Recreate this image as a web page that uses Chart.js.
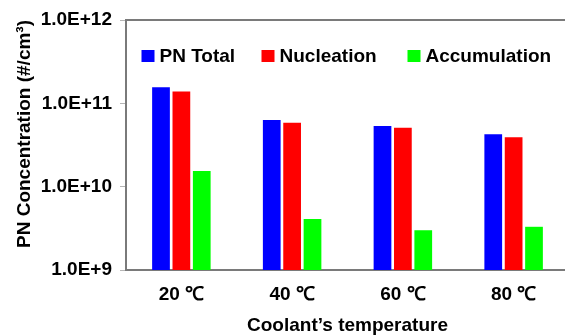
<!DOCTYPE html>
<html>
<head>
<meta charset="utf-8">
<script src="https://cdn.jsdelivr.net/npm/chart.js@4/dist/chart.umd.min.js"></script>
<style>
  html, body { margin: 0; padding: 0; background: #fff; overflow: hidden; }
  #wrap { width: 565px; height: 335px; overflow: hidden; }
  canvas { display: block; }
</style>
</head>
<body>
<div id="wrap"><canvas id="c" width="569" height="335"></canvas></div>
<script>
// Particle number concentration by coolant temperature
const categories = ['20 \u2103', '40 \u2103', '60 \u2103', '80 \u2103'];
const pnTotal = [1.56e11, 6.3e10, 5.35e10, 4.25e10];
const nucleation = [1.39e11, 5.86e10, 5.1e10, 3.91e10];
const accumulation = [1.54e10, 4.1e9, 3.0e9, 3.3e9];
const yTicks = [1e9, 1e10, 1e11, 1e12];

const FONT = '"Liberation Sans", Arial, Helvetica, sans-serif';
const AXIS_GRAY = '#7a7a7a';

// Legend drawn inside the plot area, plus the top frame line
const insideLegend = {
  id: 'insideLegend',
  afterDraw(chart, args, opts) {
    const { ctx, chartArea } = chart;
    ctx.save();
    // top frame line
    ctx.strokeStyle = AXIS_GRAY;
    ctx.lineWidth = 2;
    ctx.beginPath();
    ctx.moveTo(chartArea.left, chartArea.top);
    ctx.lineTo(chartArea.right, chartArea.top);
    ctx.stroke();

    ctx.font = 'bold 19px ' + FONT;
    ctx.textBaseline = 'middle';
    ctx.textAlign = 'left';
    chart.data.datasets.forEach((ds, i) => {
      const x = chartArea.left + opts.offsets[i];
      const y = chartArea.top + opts.y;
      ctx.fillStyle = ds.backgroundColor;
      ctx.fillRect(x, y - 6, 13, 12);
      ctx.fillStyle = '#000';
      ctx.fillText(ds.label, x + 18, y + 1);
    });
    ctx.restore();
  }
};

new Chart(document.getElementById('c'), {
  type: 'bar',
  data: {
    labels: categories,
    datasets: [
      { label: 'PN Total', data: pnTotal, backgroundColor: '#0000ff' },
      { label: 'Nucleation', data: nucleation, backgroundColor: '#ff0000' },
      { label: 'Accumulation', data: accumulation, backgroundColor: '#00ff00' }
    ]
  },
  options: {
    responsive: false,
    animation: false,
    devicePixelRatio: 1,
    layout: { padding: { top: 20, left: 0, right: 0, bottom: 0 } },
    datasets: {
      bar: { categoryPercentage: 0.552, barPercentage: 0.87, borderWidth: 0 }
    },
    plugins: {
      legend: { display: false },
      tooltip: { enabled: false },
      insideLegend: { offsets: [15.5, 135.5, 281.5], y: 36 }
    },
    scales: {
      x: {
        grid: { display: false, drawTicks: false },
        border: { display: true, color: AXIS_GRAY, width: 2 },
        ticks: { color: '#000', font: { family: FONT, size: 19, weight: 'bold' }, padding: 13, maxRotation: 0 },
        title: {
          display: true,
          text: 'Coolant\u2019s temperature',
          color: '#000',
          font: { family: FONT, size: 19, weight: 'bold', lineHeight: 1 },
          padding: { top: 0, bottom: 0 }
        },
        afterFit(scale) { scale.height = 65; }
      },
      y: {
        type: 'logarithmic',
        min: yTicks[0],
        max: yTicks[yTicks.length - 1],
        afterBuildTicks(scale) { scale.ticks = yTicks.map(v => ({ value: v })); },
        grid: { display: true, drawOnChartArea: false, drawTicks: true, tickLength: 6, color: '#b5b5b5', lineWidth: 1 },
        border: { display: true, color: AXIS_GRAY, width: 2 },
        ticks: {
          color: '#000',
          font: { family: FONT, size: 19, weight: 'bold' },
          padding: 8,
          callback: v => Number(v).toExponential(1).toUpperCase()
        },
        title: {
          display: true,
          align: 'end',
          text: 'PN Concentration (#/cm\u00b3)',
          color: '#000',
          font: { family: FONT, size: 19, weight: 'bold', lineHeight: 1 },
          padding: { top: 15, bottom: 0 }
        },
        afterFit(scale) { scale.width = 126; }
      }
    }
  },
  plugins: [insideLegend]
});
</script>
</body>
</html>
